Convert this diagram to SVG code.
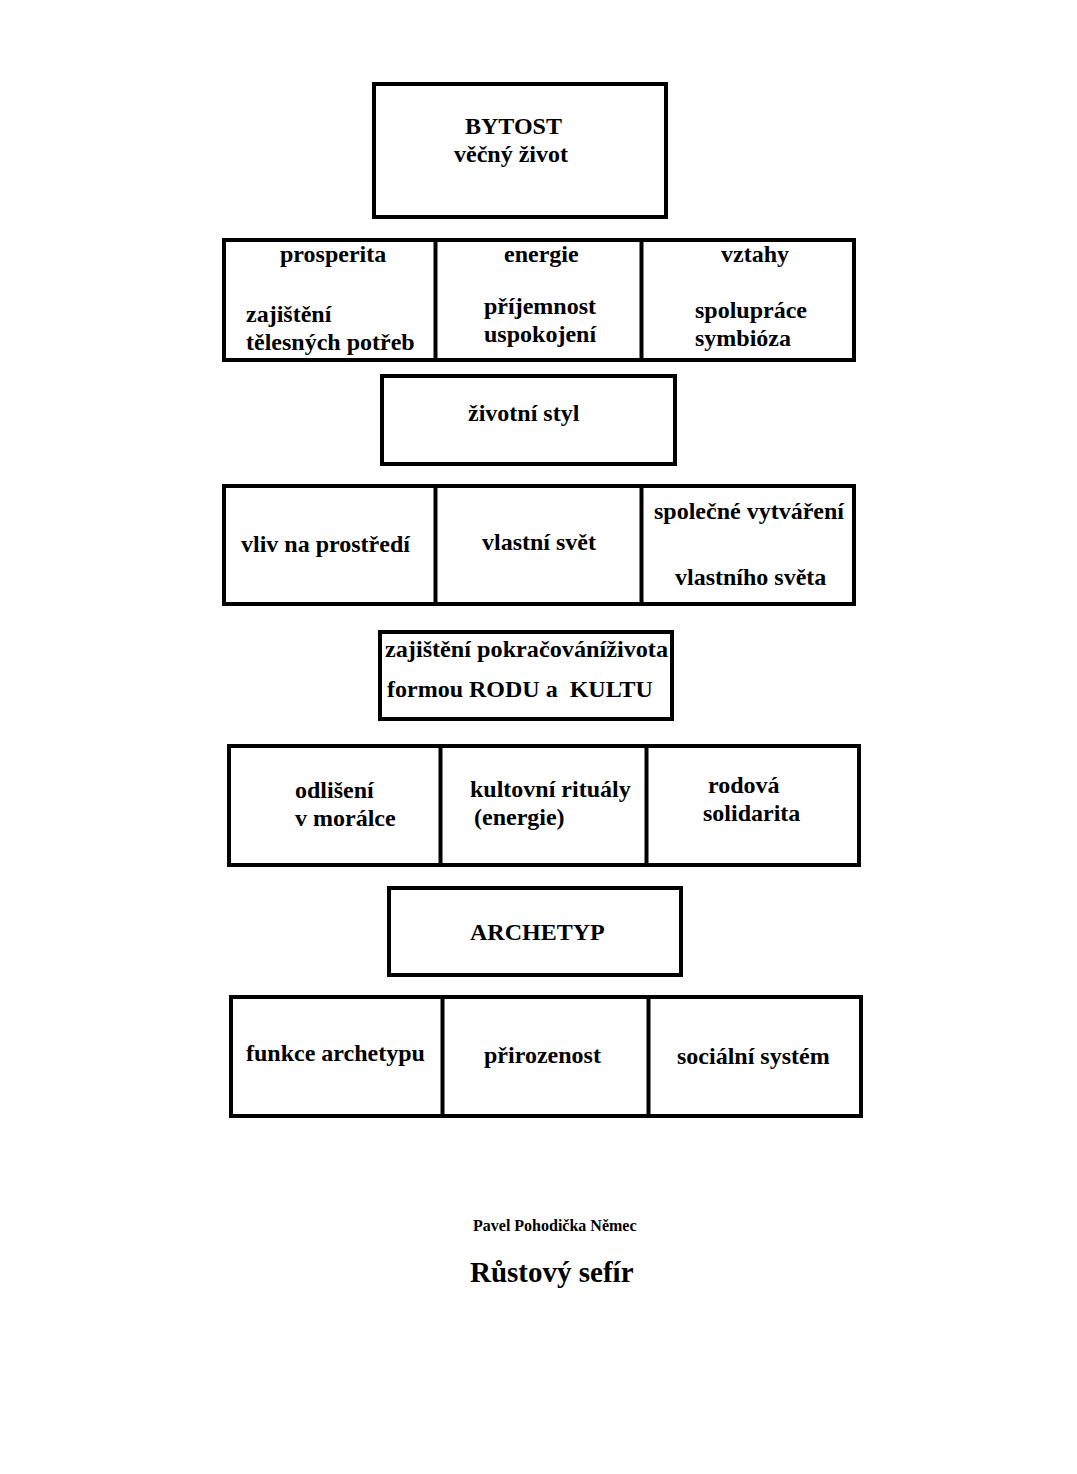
<svg xmlns="http://www.w3.org/2000/svg" width="1077" height="1474" viewBox="0 0 1077 1474">
<style>
.b{fill:#fff;stroke:#000;stroke-width:4}
.d{stroke:#000;stroke-width:4}
text{font-family:"Liberation Serif","Times New Roman",serif;font-weight:bold;font-size:24px;fill:#000}
.s{font-size:16px}
.t{font-size:29px}
</style>
<rect width="1077" height="1474" fill="#fff"/>
<g id="bytost"><rect class="b" x="374" y="84" width="292" height="133"/>
<text x="465" y="134">BYTOST</text><text x="454" y="162">věčný život</text></g>
<g id="row1">
<rect class="b" x="224" y="240" width="630" height="120"/>
<line class="d" x1="435.5" y1="240" x2="435.5" y2="360"/><line class="d" x1="641.5" y1="240" x2="641.5" y2="360"/>
<g id="prosperita"><text x="280" y="262">prosperita</text><text x="246" y="322">zajištění</text><text x="246" y="350">tělesných potřeb</text></g>
<g id="energie"><text x="504" y="262">energie</text><text x="484" y="314">příjemnost</text><text x="484" y="342">uspokojení</text></g>
<g id="vztahy"><text x="721" y="262">vztahy</text><text x="695" y="318">spolupráce</text><text x="695" y="346">symbióza</text></g>
</g>
<g id="zivotni-styl"><rect class="b" x="382" y="376" width="293" height="88"/><text x="468" y="421">životní styl</text></g>
<g id="row2">
<rect class="b" x="224" y="486" width="630" height="118"/>
<line class="d" x1="435.5" y1="486" x2="435.5" y2="604"/><line class="d" x1="641.5" y1="486" x2="641.5" y2="604"/>
<g id="vliv"><text x="241" y="552">vliv na prostředí</text></g>
<g id="vlastni-svet"><text x="482" y="550">vlastní svět</text></g>
<g id="spolecne"><text x="654" y="519">společné vytváření</text><text x="675" y="585">vlastního světa</text></g>
</g>
<g id="pokracovani"><rect class="b" x="380" y="632" width="292" height="87"/>
<text x="385" y="657" textLength="283" lengthAdjust="spacingAndGlyphs">zajištění pokračováníživota</text><text x="387" y="697" xml:space="preserve">formou RODU a  KULTU</text></g>
<g id="row3">
<rect class="b" x="229" y="746" width="630" height="119"/>
<line class="d" x1="440.5" y1="746" x2="440.5" y2="865"/><line class="d" x1="646.5" y1="746" x2="646.5" y2="865"/>
<g id="odliseni"><text x="295" y="798">odlišení</text><text x="295" y="826">v morálce</text></g>
<g id="kultovni"><text x="470" y="797">kultovní rituály</text><text x="474" y="825">(energie)</text></g>
<g id="rodova"><text x="708" y="793">rodová</text><text x="703" y="821">solidarita</text></g>
</g>
<g id="archetyp"><rect class="b" x="389" y="888" width="292" height="87"/><text x="470" y="940">ARCHETYP</text></g>
<g id="row4">
<rect class="b" x="231" y="997" width="630" height="119"/>
<line class="d" x1="442.5" y1="997" x2="442.5" y2="1116"/><line class="d" x1="648.5" y1="997" x2="648.5" y2="1116"/>
<g id="funkce"><text x="246" y="1061">funkce archetypu</text></g>
<g id="prirozenost"><text x="484" y="1063">přirozenost</text></g>
<g id="socialni"><text x="677" y="1064">sociální systém</text></g>
</g>
<g id="connectors"></g>
<text class="s" x="473" y="1231">Pavel Pohodička Němec</text>
<text class="t" x="470" y="1282">Růstový sefír</text>
</svg>
